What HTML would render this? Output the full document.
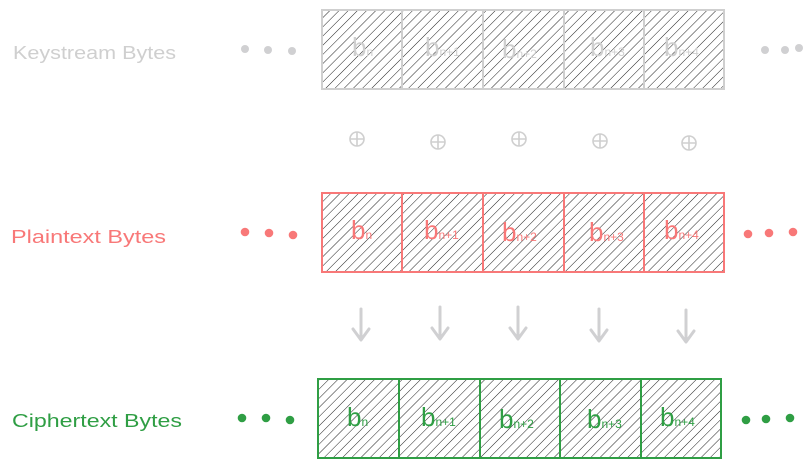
<!DOCTYPE html>
<html><head><meta charset="utf-8"><style>html,body{margin:0;padding:0;background:#fff}svg{display:block}</style></head>
<body>
<svg width="803" height="468" viewBox="0 0 803 468" xmlns="http://www.w3.org/2000/svg" font-family="Liberation Sans, sans-serif">
<defs>
<pattern id="h" patternUnits="userSpaceOnUse" width="6.5" height="6.5" patternTransform="rotate(45)">
<line x1="0" y1="0" x2="0" y2="6.5" stroke="#222" stroke-width="1"/>
</pattern>
</defs>
<text x="13" y="59" font-size="18" fill="#cfcfcf" textLength="163" lengthAdjust="spacingAndGlyphs">Keystream Bytes</text>
<text x="11" y="243" font-size="18" fill="#f87878" textLength="155" lengthAdjust="spacingAndGlyphs">Plaintext Bytes</text>
<text x="12" y="427" font-size="18" fill="#2f9e44" textLength="170" lengthAdjust="spacingAndGlyphs">Ciphertext Bytes</text>
<g fill="#d0d0d2"><circle cx="245" cy="49" r="4"/><circle cx="268" cy="50" r="4"/><circle cx="292" cy="51" r="4"/><circle cx="765" cy="50" r="4"/><circle cx="785" cy="50" r="4"/><circle cx="799" cy="48" r="4"/></g>
<g fill="#f87878"><circle cx="245" cy="232" r="4.3"/><circle cx="269" cy="233" r="4.3"/><circle cx="293" cy="235" r="4.3"/><circle cx="748" cy="234" r="4.3"/><circle cx="769" cy="233" r="4.3"/><circle cx="793" cy="232" r="4.3"/></g>
<g fill="#2f9e44"><circle cx="242" cy="418" r="4.3"/><circle cx="266" cy="418" r="4.3"/><circle cx="290" cy="420" r="4.3"/><circle cx="746" cy="420" r="4.3"/><circle cx="766" cy="419" r="4.3"/><circle cx="790" cy="418" r="4.3"/></g>
<g stroke="#cfcfcf" stroke-width="2" fill="url(#h)">
<rect x="322" y="10" width="80" height="79"/><rect x="402" y="10" width="81" height="79"/><rect x="483" y="10" width="81" height="79"/><rect x="564" y="10" width="80" height="79"/><rect x="644" y="10" width="80" height="79"/>
</g>
<g fill="#cfcfcf" font-size="26">
<text x="352" y="56">b<tspan font-size="12">n</tspan></text>
<text x="425" y="56">b<tspan font-size="12">n+1</tspan></text>
<text x="502" y="58">b<tspan font-size="12">n+2</tspan></text>
<text x="590" y="56">b<tspan font-size="12">n+3</tspan></text>
<text x="664" y="56">b<tspan font-size="12">n+4</tspan></text>
</g>
<g stroke="#cfcfcf" stroke-width="1.6" fill="none">
<g transform="translate(357,139)"><circle r="7"/><path d="M-7 0H7M0 -7V7"/></g>
<g transform="translate(438,142)"><circle r="7"/><path d="M-7 0H7M0 -7V7"/></g>
<g transform="translate(519,139)"><circle r="7"/><path d="M-7 0H7M0 -7V7"/></g>
<g transform="translate(600,141)"><circle r="7"/><path d="M-7 0H7M0 -7V7"/></g>
<g transform="translate(689,143)"><circle r="7"/><path d="M-7 0H7M0 -7V7"/></g>
</g>
<g stroke="#f87878" stroke-width="2" fill="url(#h)">
<rect x="322" y="193" width="80" height="79"/><rect x="402" y="193" width="81" height="79"/><rect x="483" y="193" width="81" height="79"/><rect x="564" y="193" width="80" height="79"/><rect x="644" y="193" width="80" height="79"/>
</g>
<g fill="#f87878" font-size="26">
<text x="351" y="239">b<tspan font-size="12">n</tspan></text>
<text x="424" y="239">b<tspan font-size="12">n+1</tspan></text>
<text x="502" y="241">b<tspan font-size="12">n+2</tspan></text>
<text x="589" y="241">b<tspan font-size="12">n+3</tspan></text>
<text x="664" y="239">b<tspan font-size="12">n+4</tspan></text>
</g>
<g stroke="#d0d0d2" stroke-width="3" fill="none" stroke-linecap="round" stroke-linejoin="round">
<path d="M361 309V339M353 329L361 340L369 329"/>
<path d="M440 307V338M432 328L440 339L448 328"/>
<path d="M518 307V338M510 328L518 339L526 328"/>
<path d="M599 309V340M591 330L599 341L607 330"/>
<path d="M686 310V341M678 331L686 342L694 331"/>
</g>
<g stroke="#2f9e44" stroke-width="2" fill="url(#h)">
<rect x="318" y="379" width="81" height="79"/><rect x="399" y="379" width="81" height="79"/><rect x="480" y="379" width="80" height="79"/><rect x="560" y="379" width="81" height="79"/><rect x="641" y="379" width="80" height="79"/>
</g>
<g fill="#2f9e44" font-size="26">
<text x="347" y="426">b<tspan font-size="12">n</tspan></text>
<text x="421" y="426">b<tspan font-size="12">n+1</tspan></text>
<text x="499" y="428">b<tspan font-size="12">n+2</tspan></text>
<text x="587" y="428">b<tspan font-size="12">n+3</tspan></text>
<text x="660" y="426">b<tspan font-size="12">n+4</tspan></text>
</g>
</svg>
</body></html>
